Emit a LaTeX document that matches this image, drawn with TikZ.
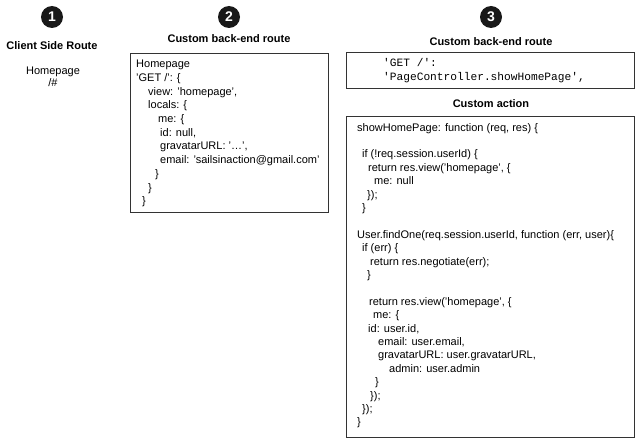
\documentclass[tikz,border=0pt]{standalone}
\usepackage{fontspec}
\setmainfont{Liberation Sans}
\setmonofont{Liberation Mono}
\usepackage{tikz}
\def\ind#1{\hspace*{#1pt}}

\begin{document}
\begin{tikzpicture}[x=1pt,y=-1pt,
    num/.style={circle, fill=black!90, text=white, minimum size=22pt, inner sep=0pt, font={\fontsize{14}{14}\selectfont\bfseries}},
    title/.style={font={\fontsize{11}{13}\selectfont\bfseries}},
    box/.style={draw=black!80, line width=0.9pt, anchor=north west, inner sep=0pt},
    code/.style={anchor=north west, inner sep=0pt, align=left, font={\fontsize{11}{13.4}\selectfont}}]
    \useasboundingbox (0,0) rectangle (638,441);

    % column 1
    \node[num] (n1) at (52,17) {1};
    \node[title] (t1) at (52,46) {Client Side Route};
    \node[font={\fontsize{11}{12}\selectfont}, align=center] (home) at (53,77) {Homepage\\/\#};

    % column 2
    \node[num] (n2) at (229,17) {2};
    \node[title] (t2) at (229,39) {Custom back-end route};
    \node[box, minimum width=198pt, minimum height=159pt] (b2) at (130,53) {};
    \node[code, font={\fontsize{11}{13.7}\selectfont}] (c2) at (136,60) {Homepage\\
      'GET /': \{\\
      \ind{12}view: 'homepage',\\
      \ind{12}locals: \{\\
      \ind{22}me: \{\\
      \ind{24}id: null,\\
      \ind{24}gravatarURL: '\ldots',\\
      \ind{24}email: 'sailsinaction@gmail.com'\\
      \ind{19}\}\\
      \ind{12}\}\\
      \ind{6}\}};

    % column 3
    \node[num] (n3) at (491,17) {3};
    \node[title] (t3) at (491,42) {Custom back-end route};
    \node[box, minimum width=288pt, minimum height=36pt] (b3) at (346,52) {};
    \node[code, font={\fontsize{11.2}{14}\ttfamily}] (c3) at (383,58) {'GET /':\\
      'PageController.showHomePage',};

    \node[title] (t4) at (491,104) {Custom action};
    \node[box, minimum width=288pt, minimum height=321pt] (b4) at (346,116) {};
    \node[code] (c4) at (357,123) {showHomePage: function (req, res) \{\\
      \mbox{}\\
      \ind{5}if (!req.session.userId) \{\\
      \ind{11}return res.view('homepage', \{\\
      \ind{17}me: null\\
      \ind{10}\});\\
      \ind{5}\}\\
      \mbox{}\\
      User.findOne(req.session.userId, function (err, user)\{\\
      \ind{5}if (err) \{\\
      \ind{13}return res.negotiate(err);\\
      \ind{10}\}\\
      \mbox{}\\
      \ind{12}return res.view('homepage', \{\\
      \ind{16}me: \{\\
      \ind{11}id: user.id,\\
      \ind{21}email: user.email,\\
      \ind{21}gravatarURL: user.gravatarURL,\\
      \ind{32}admin: user.admin\\
      \ind{18}\}\\
      \ind{13}\});\\
      \ind{5}\});\\
      \}};
\end{tikzpicture}
\end{document}
